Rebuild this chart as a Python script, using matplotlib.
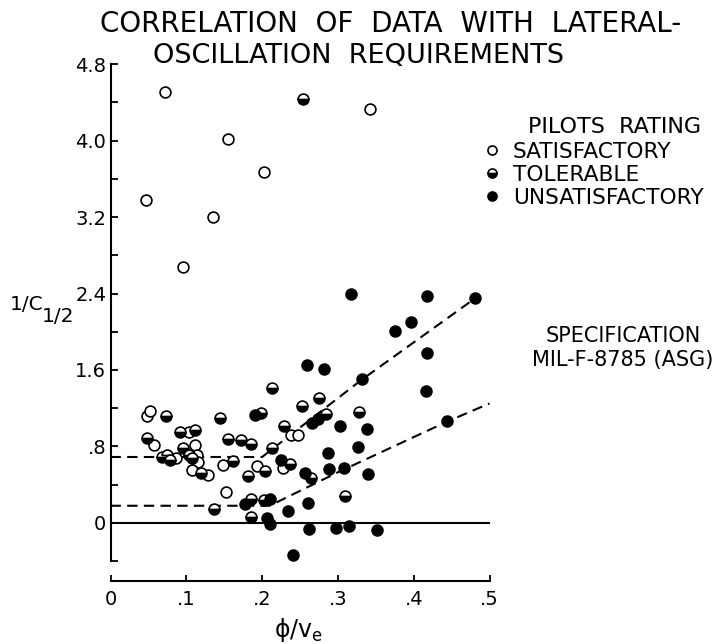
import matplotlib
matplotlib.use("Agg")
import matplotlib.pyplot as plt
from matplotlib.lines import Line2D

plt.rcParams["font.family"] = ["DejaVu Sans"]

# pilots rating data, phi/ve vs 1/C1/2
sat_x = [0.047, 0.072, 0.096, 0.135, 0.155, 0.203, 0.342,
         0.048, 0.052, 0.058, 0.103, 0.111, 0.087, 0.114, 0.116, 0.107,
         0.128, 0.149, 0.152, 0.193, 0.227, 0.238, 0.248]
sat_y = [3.38, 4.51, 2.68, 3.20, 4.02, 3.67, 4.33,
         1.12, 1.17, 0.82, 0.955, 0.82, 0.675, 0.71, 0.64, 0.555,
         0.50, 0.61, 0.32, 0.60, 0.57, 0.92, 0.92]

tol_x = [0.254, 0.073, 0.048, 0.092, 0.111, 0.095, 0.068, 0.074, 0.078,
         0.103, 0.107, 0.120, 0.144, 0.155, 0.172, 0.186, 0.161, 0.181,
         0.199, 0.213, 0.229, 0.213, 0.237, 0.204, 0.253, 0.275, 0.284,
         0.328, 0.265, 0.310, 0.137, 0.186, 0.203, 0.185]
tol_y = [4.43, 1.12, 0.886, 0.955, 0.97, 0.78, 0.69, 0.71, 0.66,
         0.71, 0.675, 0.52, 1.10, 0.88, 0.87, 0.83, 0.65, 0.49,
         1.155, 1.415, 1.01, 0.78, 0.62, 0.54, 1.22, 1.31, 1.14,
         1.16, 0.47, 0.28, 0.15, 0.25, 0.235, 0.06]

uns_x = [0.317, 0.418, 0.481, 0.375, 0.396, 0.417, 0.416, 0.444, 0.332,
         0.259, 0.282, 0.191, 0.266, 0.274, 0.303, 0.339, 0.327, 0.287,
         0.225, 0.288, 0.308, 0.257, 0.340, 0.177, 0.210, 0.260, 0.234,
         0.206, 0.210, 0.262, 0.297, 0.315, 0.351, 0.241]
uns_y = [2.39, 2.37, 2.35, 2.01, 2.10, 1.78, 1.38, 1.07, 1.51,
         1.65, 1.61, 1.13, 1.05, 1.09, 1.01, 0.98, 0.79, 0.73,
         0.66, 0.56, 0.58, 0.52, 0.51, 0.20, 0.25, 0.21, 0.13,
         0.05, -0.01, -0.06, -0.055, -0.03, -0.07, -0.34]

# specification boundaries
upper_x = [0, 0.20, 0.33, 0.481]
upper_y = [0.69, 0.69, 1.49, 2.35]
lower_x = [0, 0.21, 0.30, 0.444, 0.50]
lower_y = [0.18, 0.18, 0.53, 1.06, 1.25]

xticks = [0, 0.1, 0.2, 0.3, 0.4, 0.5]
xtick_labels = ["0", ".1", ".2", ".3", ".4", ".5"]
yticks = [0, 0.8, 1.6, 2.4, 3.2, 4.0, 4.8]
ytick_labels = ["0", ".8", "1.6", "2.4", "3.2", "4.0", "4.8"]

W, H = 716, 644
fig = plt.figure(figsize=(W / 100, H / 100), dpi=100)
ax = fig.add_axes([110.5 / W, 1 - 580.7 / H, 379 / W, (580.7 - 59.3) / H])
ax.set_xlim(0, 0.5)
ax.set_ylim(-0.604, 4.85)

ax.plot([0, 0.5], [0, 0], color="k", lw=1.5)
ax.plot(upper_x, upper_y, color="k", lw=1.5, ls=(0, (5, 3)))
ax.plot(lower_x, lower_y, color="k", lw=1.5, ls=(0, (5, 3)))

mk = dict(ls="none", marker="o", ms=7.8, mew=1.2, mec="k", clip_on=False)
ax.plot(sat_x, sat_y, mfc="white", **mk)
ax.plot(tol_x, tol_y, fillstyle="bottom", mfc="k", mfcalt="white", **mk)
ax.plot(uns_x, uns_y, mfc="k", **mk)

for s in ["top", "right"]:
    ax.spines[s].set_visible(False)
ax.spines["left"].set_bounds(-0.4, 4.8)
ax.spines["left"].set_linewidth(1.5)
ax.spines["bottom"].set_linewidth(1.5)

ax.set_xticks(xticks)
ax.set_xticklabels(xtick_labels, fontsize=14)
ax.set_yticks(yticks)
ax.set_yticklabels(ytick_labels, fontsize=14)
ax.set_yticks([-0.4 + 0.8 * i for i in range(7)], minor=True)
ax.tick_params(axis="both", which="both", direction="in", width=1.3)
ax.tick_params(axis="x", length=4, pad=7)
ax.tick_params(axis="y", which="major", length=5, pad=3)
ax.tick_params(axis="y", which="minor", length=5)

fig.text(100 / W, 1 - 32 / H, "CORRELATION  OF  DATA  WITH  LATERAL-", fontsize=20, va="baseline")
fig.text(153 / W, 1 - 63 / H, "OSCILLATION  REQUIREMENTS", fontsize=19.5, va="baseline")

fig.text(10 / W, 1 - 310 / H, "1/C", fontsize=14.5, va="baseline")
fig.text(42 / W, 1 - 322 / H, "1/2", fontsize=14.5, va="baseline")
fig.text(299 / W, 1 - 637 / H, r"$\mathregular{\phi/v_e}$", fontsize=17, ha="center", va="baseline")

# legend
fig.text(615 / W, 1 - 133 / H, "PILOTS  RATING", fontsize=16, ha="center", va="baseline")
leg_labels = ["SATISFACTORY", "TOLERABLE", "UNSATISFACTORY"]
leg_style = [dict(mfc="white"), dict(fillstyle="bottom", mfc="k", mfcalt="white"), dict(mfc="k")]
for i, (lab, st) in enumerate(zip(leg_labels, leg_style)):
    yb = 158 + 23 * i
    fig.text(513 / W, 1 - yb / H, lab, fontsize=15.7, va="baseline")
    fig.add_artist(Line2D([492 / W], [1 - (yb - 8) / H], marker="o", ms=6.5, mew=1.2,
                          mec="k", ls="none", transform=fig.transFigure, **st))

fig.text(623 / W, 1 - 342 / H, "SPECIFICATION", fontsize=15, ha="center", va="baseline")
fig.text(623 / W, 1 - 366 / H, "MIL-F-8785 (ASG)", fontsize=15, ha="center", va="baseline")

fig.savefig("out.png", dpi=100)
